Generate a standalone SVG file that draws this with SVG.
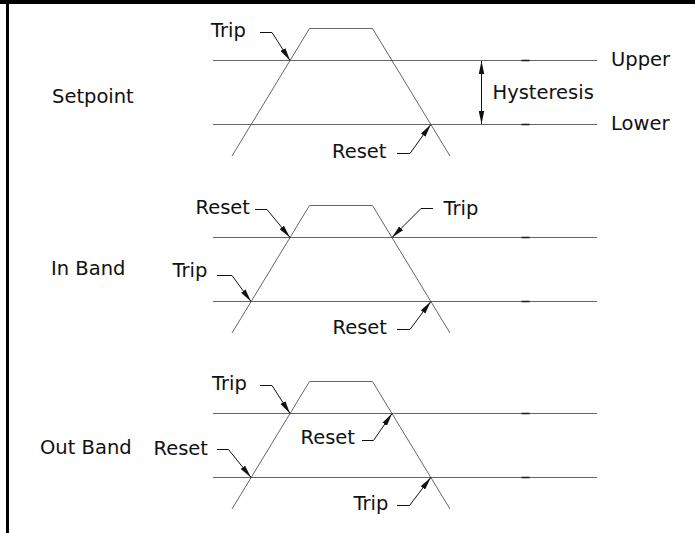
<svg xmlns="http://www.w3.org/2000/svg" xmlns:xlink="http://www.w3.org/1999/xlink" width="695" height="533" viewBox="0 0 695 533">
<style>
text{font-family:"DejaVu Sans","Liberation Sans",sans-serif;font-size:19.5px;fill:#111}
.hl{stroke:#666;stroke-width:1;fill:none}
.tr{stroke:#555;stroke-width:0.9;fill:none}
.tk{stroke:#222;stroke-width:1.6}
.ld{stroke:#111;stroke-width:1;fill:none;marker-end:url(#ah)}
.bd{stroke:#000;fill:none}
</style>
<defs>
<marker id="ah" markerUnits="userSpaceOnUse" markerWidth="14" markerHeight="6" refX="13" refY="2.75" orient="auto-start-reverse" viewBox="0 0 14 5.5">
<path d="M0,0 L13,2.75 L0,5.5 Z" fill="#111"/>
</marker>
<g id="wave">
<line class="hl" x1="213" y1="60.5" x2="597" y2="60.5"/>
<line class="hl" x1="213" y1="124.5" x2="597" y2="124.5"/>
<line class="tk" x1="521.5" y1="60.5" x2="529.5" y2="60.5"/>
<line class="tk" x1="521.5" y1="124.5" x2="529.5" y2="124.5"/>
<polyline class="tr" points="232,156 309.5,28.5 372.5,28.5 450,156"/>
</g>
</defs>
<g id="border">
<line class="bd" x1="0" y1="2" x2="695" y2="2" stroke-width="4"/>
<line class="bd" x1="7.5" y1="0" x2="7.5" y2="533" stroke-width="3"/>
</g>
<g id="panel-setpoint">
<use xlink:href="#wave"/>
<text x="52" y="103">Setpoint</text>
<text x="611" y="66">Upper</text>
<text x="611" y="129.5">Lower</text>
<text x="492.5" y="98.5">Hysteresis</text>
<g id="sp-trip"><text x="211" y="37">Trip</text></g>
<g id="sp-reset"><text x="332" y="157.5">Reset</text></g>
</g>
<g id="panel-inband">
<use xlink:href="#wave" y="177"/>
<text x="51" y="274.5">In Band</text>
<g id="ib-reset-up"><text x="195.5" y="213.5">Reset</text></g>
<g id="ib-trip-left"><text x="172.5" y="277">Trip</text></g>
<g id="ib-trip-right"><text x="443.5" y="215">Trip</text></g>
<g id="ib-reset-low"><text x="332.5" y="333.5">Reset</text></g>
</g>
<g id="panel-outband">
<use xlink:href="#wave" y="353"/>
<text x="40" y="454">Out Band</text>
<g id="ob-trip-up"><text x="212" y="389.5">Trip</text></g>
<g id="ob-reset-left"><text x="153.5" y="454.5">Reset</text></g>
<g id="ob-reset-mid"><text x="300.5" y="444">Reset</text></g>
<g id="ob-trip-low"><text x="353.5" y="509.5">Trip</text></g>
</g>
<g id="connectors">
<line class="ld" x1="481.5" y1="92" x2="481.5" y2="61"/>
<line class="ld" x1="481.5" y1="92" x2="481.5" y2="124"/>
<path class="ld" d="M260,32.5 H272 L290,60.5"/>
<path class="ld" d="M397,153.5 H410 L430.8,124.5"/>
<path class="ld" d="M255,209.5 H267 L290,237.5"/>
<path class="ld" d="M217,275.5 H232 L251,301.5"/>
<path class="ld" d="M433,208.5 H421 L392,237.5"/>
<path class="ld" d="M397,329.5 H410 L430.8,301.5"/>
<path class="ld" d="M260,385.5 H272 L290,413.5"/>
<path class="ld" d="M217,449.5 H228.5 L251,477.5"/>
<path class="ld" d="M362,440.5 H373.5 L392,413.5"/>
<path class="ld" d="M397,505.5 H409.5 L430.8,477.5"/>
</g>
</svg>
